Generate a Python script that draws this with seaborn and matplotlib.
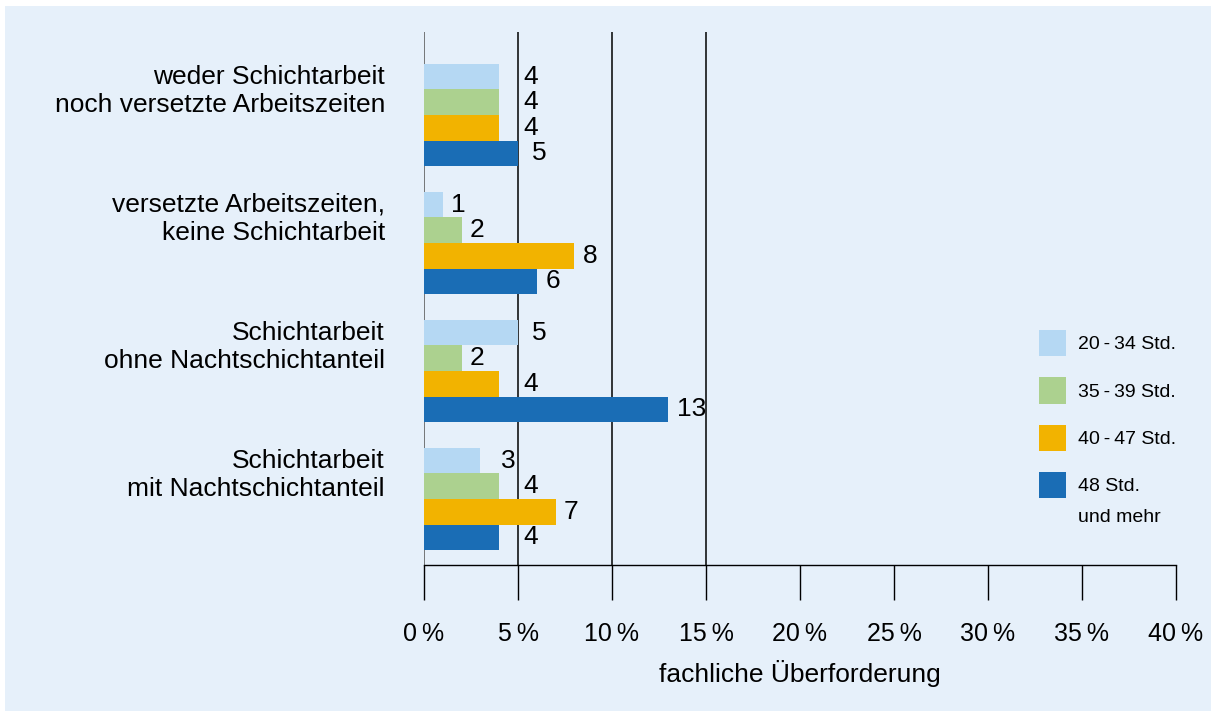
import pandas as pd
import matplotlib
matplotlib.use("Agg")
import matplotlib.pyplot as plt
import matplotlib.transforms as mtransforms
from matplotlib.patches import Patch, Rectangle
import seaborn as sns

# ========== Data ==========
categories = [
    "weder Schichtarbeit\nnoch versetzte Arbeitszeiten",
    "versetzte Arbeitszeiten,\nkeine Schichtarbeit",
    "Schichtarbeit\nohne Nachtschichtanteil",
    "Schichtarbeit\nmit Nachtschichtanteil",
]
hour_groups = ["20\u2009-\u200934 Std.", "35\u2009-\u200939 Std.", "40\u2009-\u200947 Std.", "48 Std."]
vals_20_34 = [4, 1, 5, 3]
vals_35_39 = [4, 2, 2, 4]
vals_40_47 = [4, 8, 4, 7]
vals_48 = [5, 6, 13, 4]
x_ticks = [0, 5, 10, 15, 20, 25, 30, 35, 40]
x_tick_labels = [f"{t}\u2009%" for t in x_ticks]
grid_lines = [0, 5, 10, 15]

colors = ["#b5d8f3", "#acd18f", "#f2b300", "#1a6db5"]
bg = "#e6f0fa"

series = [vals_20_34, vals_35_39, vals_40_47, vals_48]
rows = []
for grp, vals in zip(hour_groups, series):
    for cat, v in zip(categories, vals):
        rows.append({"Kategorie": cat, "Std": grp, "Wert": v})
df = pd.DataFrame(rows)

# ========== Style ==========
sns.set_style("white")
plt.rcParams["font.family"] = ["Liberation Sans", "DejaVu Sans"]
plt.rcParams["text.color"] = "black"
plt.rcParams["xtick.color"] = "black"
plt.rcParams["xtick.labelcolor"] = "black"
plt.rcParams["axes.labelcolor"] = "black"

fig = plt.figure(figsize=(12.11, 7.11), dpi=100)
fig.patch.set_facecolor("white")
fig.patches.append(Rectangle((5 / 1211, 0), 1, 1 - 6 / 711, transform=fig.transFigure,
                             facecolor=bg, edgecolor="none", zorder=-10))

ax = fig.add_axes([424 / 1211, 146 / 711, 752 / 1211, 533 / 711])
ax.set_facecolor("none")

sns.barplot(data=df, y="Kategorie", x="Wert", hue="Std", order=categories,
            hue_order=hour_groups, palette=colors, orient="h", saturation=1,
            width=0.8, linewidth=0, legend=False, ax=ax, zorder=2)

ax.set_xlim(0, 40)
ax.set_ylim(3.516, -0.648)

for g in grid_lines:
    ax.axvline(g, color="#555555" if g == 0 else "black", lw=1.1, zorder=1)

for side in ["left", "top", "right"]:
    ax.spines[side].set_visible(False)
ax.spines["bottom"].set_color("black")
ax.spines["bottom"].set_linewidth(1.0)

ax.set_xticks(x_ticks, x_tick_labels)
ax.tick_params(axis="x", bottom=True, direction="out", length=25, width=1,
               color="black", labelcolor="black", pad=16, labelsize=18)
ax.set_yticks([])
ax.set_ylabel("")
ax.set_xlabel("fachliche Überforderung", fontsize=19, labelpad=10, color="black")

# category labels
trans = mtransforms.blended_transform_factory(ax.transAxes, ax.transData)
for i, cat in enumerate(categories):
    ax.text(-0.052, i - 0.19, cat, transform=trans, ha="right", va="center",
            fontsize=19, linespacing=1.22, color="black")

# value labels
pads = {3: 15, 4: 17.5, 5: 10}
for cont, vals in zip(ax.containers, series):
    for bar, v in zip(cont, vals):
        ax.annotate(str(v), xy=(bar.get_width(), bar.get_y() + bar.get_height() / 2),
                    xytext=(pads.get(v, 6), 0), textcoords="offset points",
                    ha="left", va="center", fontsize=19, color="black")

# legend
handles = [Patch(facecolor=c, edgecolor="none") for c in colors]
leg = ax.legend(handles, hour_groups, loc="upper left",
                bbox_to_anchor=(1039 / 1211, 1 - 330 / 711), bbox_transform=fig.transFigure,
                frameon=False, fontsize=14, handlelength=1.39, handleheight=1.7,
                handletextpad=0.62, labelspacing=1.08, borderpad=0, borderaxespad=0)
for t in leg.get_texts():
    t.set_color("black")
fig.text(1078 / 1211, 1 - 517 / 711, "und mehr", fontsize=14, ha="left", va="center",
         color="black")

fig.savefig("out.png", dpi=100, facecolor=fig.get_facecolor())
